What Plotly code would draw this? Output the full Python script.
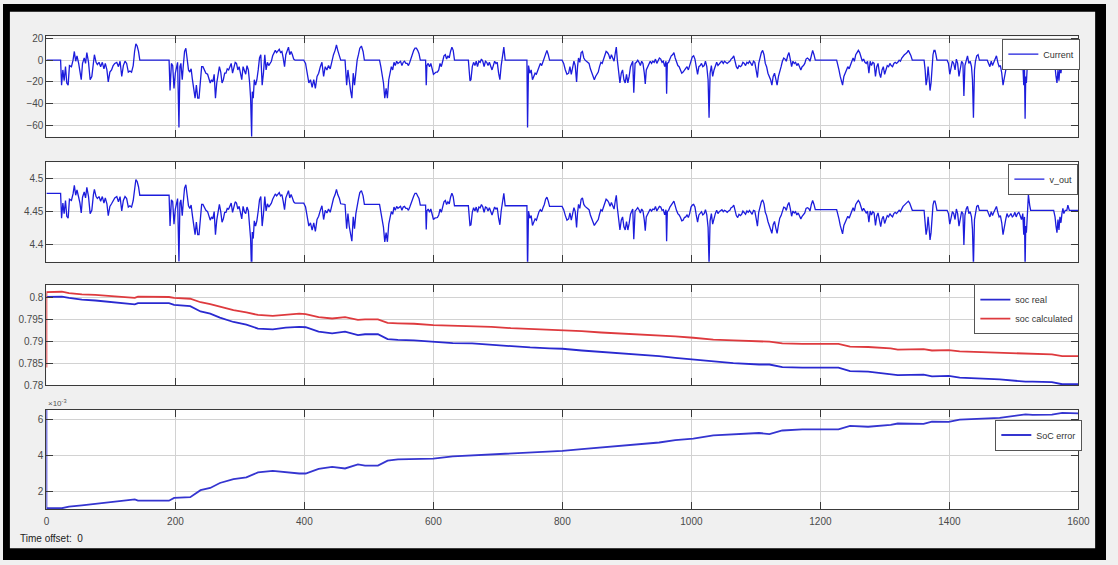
import plotly.graph_objects as go

# ---------------- data ----------------
# drive-cycle samples: time [s], pack current [A], terminal voltage [V]
time_s = [
    0, 22, 23.5, 25.5, 27.5, 29.6, 31.6, 33.7, 35.7, 38.8,
    41.3, 43.3, 45.4, 47.4, 50, 52, 54, 56, 58.6, 60.7,
    62.7, 65.3, 67.8, 70.4, 72.9, 74.4, 77, 79, 81.6, 84.1,
    86.7, 89.2, 91.3, 93.8, 95.9, 98.4, 101, 103.5, 106, 109.1,
    111.7, 114.2, 116.8, 119.3, 121.9, 124.4, 127, 129.5, 132, 134.6,
    136.7, 138.7, 140.7, 142.8, 144.8, 190.2, 191.7, 193.8, 195.8, 197.8,
    199.9, 202, 203.4, 205.5, 207, 208.5, 210.6, 212.1, 214.2, 216.2,
    218.2, 220.3, 222.3, 224.4, 226.4, 228.4, 230.5, 232.5, 234.6, 236.6,
    238.6, 240.7, 242.7, 244.7, 247.3, 249.9, 251.9, 254, 256, 258,
    260.1, 262.1, 264.1, 266.2, 268.2, 270.3, 272.3, 274.3, 276.4, 278.4,
    280.4, 282.5, 284.5, 286.5, 288.6, 290.6, 292.7, 294.7, 296.8, 298.8,
    300.8, 302.9, 304.9, 307, 309, 311, 313.1, 315.1, 316.6, 318.2,
    319.2, 320.7, 322.3, 324.3, 326.3, 328.4, 330.4, 332.4, 334.5, 336.5,
    338.6, 340.6, 342.7, 344.7, 346.7, 348.8, 350.8, 352.8, 354.9, 356.9,
    359, 361, 363, 365.1, 367.1, 369.2, 371.2, 373.2, 375.3, 377.3,
    379.4, 381.4, 383.4, 385.5, 399, 401.8, 404.3, 406.9, 409.4, 412,
    414.5, 417, 419.6, 422.1, 424.7, 427.2, 429.8, 432.3, 434.9, 437.4,
    440, 442.5, 445.1, 447.6, 449.7, 451.7, 454.3, 456.3, 463, 465.5,
    467.5, 469.6, 471.6, 473.6, 475.7, 477.7, 479.8, 481.8, 483.8, 485.9,
    488.4, 491, 493, 516.5, 518.5, 520.6, 522.6, 524.6, 526.7, 528.7,
    530.8, 532.8, 534.8, 536.9, 538.9, 540.9, 543, 545, 547.1, 549.1,
    551.2, 553.2, 555.2, 557.3, 559.3, 561.3, 563.4, 565.4, 567.5, 569.5,
    571.5, 573.6, 575.6, 577.7, 579.7, 587.9, 588.9, 589.9, 591.9, 594,
    596, 598.1, 600.1, 602.1, 604.2, 606.2, 608.3, 610.3, 612.3, 614.4,
    616.4, 618.5, 620.5, 622.5, 624.6, 626.6, 628.7, 630.7, 632.7, 654.2,
    655.2, 656.7, 658.2, 660.3, 662.3, 664.4, 666.4, 668.4, 670.5, 672.5,
    674.5, 676.6, 678.6, 680.7, 682.7, 684.7, 686.8, 688.8, 690.9, 692.9,
    694.9, 697, 699, 701.1, 703.1, 705.1, 707.2, 709.2, 711.3, 745,
    746, 747.5, 749.5, 751.6, 753.6, 755.6, 757.7, 759.7, 761.8, 763.8,
    765.8, 767.9, 769.9, 772, 774, 776, 778.1, 780.1, 799.5, 802,
    804.6, 807.1, 809.7, 811.7, 813.8, 815.8, 817.9, 819.9, 822, 823.5,
    825, 827, 829.1, 831.1, 833.2, 835.2, 837.2, 839.3, 841.3, 843.4,
    845.4, 847.4, 849.5, 851.5, 853.6, 855.6, 857.6, 859.7, 861.7, 863.8,
    865.8, 867.8, 869.9, 871.9, 873.9, 876, 878, 880.1, 882.1, 883.6,
    885.2, 887.2, 889.2, 891.3, 893.3, 895.4, 897.4, 899.4, 901.5, 903.5,
    905.6, 907.6, 909.1, 910.7, 912.7, 914.7, 916.8, 918.8, 920.9, 922.9,
    924.9, 927, 928.5, 930.1, 932.1, 934.1, 936.2, 938.2, 940.2, 942.3,
    944.3, 946.4, 948.4, 950.4, 952.5, 954.5, 956.5, 958.6, 960.6, 961.6,
    962.7, 964.7, 966.7, 968.8, 970.8, 972.9, 974.9, 976.9, 979, 981,
    983.1, 985.1, 987.1, 989.2, 991.2, 993.2, 995.3, 997.3, 999.4, 1001.4,
    1003.5, 1005.5, 1007.5, 1009.6, 1011.6, 1013.7, 1015.7, 1017.7, 1019.8, 1021.8,
    1023.9, 1025.9, 1027.4, 1029, 1031, 1033, 1035.1, 1037.1, 1039.2, 1041.2,
    1043.2, 1045.3, 1047.3, 1049.4, 1051.4, 1053.4, 1055.5, 1057.5, 1059.6, 1061.6,
    1063.6, 1065.7, 1067.7, 1069.7, 1071.8, 1073.8, 1075.9, 1077.9, 1079.9, 1082,
    1084, 1086.1, 1088.1, 1090.1, 1092.2, 1094.2, 1096.3, 1098.3, 1100.3, 1102.4,
    1104.4, 1106.4, 1108.5, 1110.5, 1112.6, 1114.6, 1116.6, 1118.7, 1120.7, 1122.8,
    1124.8, 1126.8, 1128.9, 1130.9, 1132.9, 1135, 1137, 1139.1, 1141.1, 1143.2,
    1145.2, 1147.2, 1149.3, 1151.3, 1153.3, 1155.4, 1157.4, 1159.5, 1161.5, 1163.5,
    1165.6, 1167.6, 1169.7, 1171.7, 1173.8, 1175.8, 1177.8, 1179.9, 1181.9, 1183.9,
    1186, 1188, 1190.1, 1192.1, 1225.2, 1226.7, 1228.8, 1230.8, 1232.8, 1234.4,
    1236.4, 1238.5, 1240.5, 1242.5, 1244.6, 1246.6, 1248.7, 1250.7, 1252.7, 1254.8,
    1256.8, 1258.9, 1260.9, 1262.9, 1265, 1267, 1269.1, 1271.1, 1273.1, 1275.2,
    1277.2, 1279.2, 1281.3, 1283.3, 1285.4, 1287.4, 1289.4, 1291.5, 1293.5, 1295.6,
    1297.6, 1299.6, 1301.7, 1303.7, 1305.8, 1307.8, 1309.8, 1311.9, 1313.9, 1316,
    1318, 1320, 1322.1, 1324.1, 1326.2, 1328.2, 1330.2, 1332.3, 1334.3, 1336.4,
    1338.4, 1340.4, 1342.5, 1360.8, 1362.4, 1363.9, 1365.4, 1367, 1368.5, 1370,
    1371.6, 1373.1, 1374.6, 1376.1, 1377.7, 1379.2, 1380.7, 1396.5, 1398.6, 1400.6,
    1402.6, 1404.7, 1406.7, 1408.8, 1410.8, 1412.8, 1414.9, 1416.9, 1419, 1421,
    1422.5, 1424.1, 1426.1, 1428.1, 1430.2, 1432.2, 1434.3, 1435.8, 1437.3, 1438.9,
    1440.4, 1442.4, 1444.5, 1446.5, 1458.7, 1460.8, 1462.8, 1464.9, 1466.9, 1468.9,
    1471, 1473, 1475.1, 1477.1, 1479.1, 1481.2, 1483.2, 1485.2, 1487.3, 1489.3,
    1491.4, 1493.4, 1495.4, 1497.5, 1499.5, 1501.6, 1503.6, 1505.6, 1507.7, 1509.7,
    1511.8, 1513.8, 1515.3, 1516.4, 1517.4, 1518.4, 1519.4, 1521, 1522.5, 1524.5,
    1526, 1561.7, 1563.8, 1565.3, 1566.8, 1568.4, 1569.9, 1571.4, 1573, 1574.5,
    1576, 1577.5, 1579.6, 1582.1, 1583.7, 1586, 1600,
]

current_a = [
    0, 0, -23, -9, -19, -6, -21, -23, -5, -6,
    0, 8, -1, 4, -3, -9, -18, -3, 2, -3,
    7, -2, -18, -15, 0, 5, -2, -4, -2, -6,
    -2, -8, -3, -9, -20, -11, -9, -5, -3, -2,
    -6, -1, -15, -5, -1, -3, -11, -10, -11, -5,
    8, 15, 13, 8, 0, 0, -28, -3, -5, -26,
    -12, -3, -2, -62, -6, -3, -18, -6, 8, 11,
    2, -9, -11, -8, -18, -26, -35, -23, -35, -35,
    -18, -6, -6, -9, -12, -13, -18, -21, -18, -20,
    -13, -35, -21, -12, -6, -11, -21, -18, -12, -12,
    -8, -9, -6, -3, -12, -6, -2, -3, -9, -6,
    -12, -18, -6, -11, -13, -5, -9, -21, -35, -70.5,
    -29, -35, -18, -23, -18, -9, 2, 5, -23, -12,
    5, -9, -2, -5, -3, -1, 4, 7, 9, 7,
    9, 10, 7, 8, 2, -6, 5, 9, 12, 5,
    8, 5, 1, 0, 0, -3, -12, -21, -18, -25,
    -18, -26, -15, -12, -6, -2, -15, -6, -9, -5,
    -8, -1, 5, 9, 14, 9, 5, 0, 0, -23,
    -9, -21, -28, -35, -12, -23, -9, 0, 5, 11,
    13, 8, 0, 0, -6, -15, -21, -35, -26, -35,
    -18, -12, -6, -9, -2, -5, -1, -3, -2, -1,
    -5, -2, -1, -3, -3, -5, -2, 2, 7, 9,
    11, 11, 9, 6, 0, 0, -23, -5, -3, -6,
    -3, -9, -13, -12, -11, -11, -9, -3, -6, -1,
    4, 5, 1, 4, 2, 8, 12, 9, 0, 0,
    -12, -19, -18, -6, -2, -5, -1, -6, -1, -2,
    1, -1, -6, -1, -2, -5, -2, -6, -9, -5,
    -1, -3, -2, -12, -18, -5, 5, 12, 0, 0,
    -62, -5, -12, -9, -18, -15, -12, -13, -9, -5,
    -3, -5, -1, 2, 7, 9, 5, 0, 0, -3,
    -9, -13, -12, -6, -13, -6, -1, -5, -20, -6,
    2, -2, 7, 8, 2, 0, -1, -2, -3, -8,
    -12, -15, -18, -15, -13, -11, -6, -2, -3, 1,
    5, 8, 7, 5, 1, 5, 2, -1, 7, 12,
    0, -9, -21, -12, -9, -18, -21, -13, -21, -15,
    -6, -3, -1, -30, -3, -2, 0, -2, -5, -1,
    -3, -12, -22, -9, -6, -3, -1, -3, -1, -2,
    1, -3, -1, 2, 1, -2, -1, -6, -1, -31,
    -3, -2, 1, 4, 5, 7, 2, -2, -5, -6,
    -9, -12, -11, -9, -8, -6, -9, -5, 1, 3,
    4, 1, -6, -13, -6, -5, -3, -6, -5, -1,
    -6, -18, -53, -12, -5, -15, -9, -5, -2, -5,
    -3, -2, -1, -3, -1, -2, -3, -2, -1, 1,
    2, 4, -2, -6, -8, -5, -6, -5, -2, -3,
    -5, -2, -3, -1, -3, -5, -1, -2, -9, -16,
    -3, 2, 7, 9, 5, -3, -6, -12, -15, -18,
    -23, -15, -12, -18, -23, -15, -9, -6, -1, 2,
    1, -1, 4, 7, 1, -6, -1, -3, -2, -5,
    -3, -6, -9, -6, -5, -3, 1, 2, 1, -1,
    5, 9, 5, 0, 0, -3, -9, -15, -21, -23,
    -15, -12, -9, -6, -8, -5, -2, 2, -1, 5,
    7, 9, 7, 2, -1, 1, -2, -3, -1, -12,
    -1, -5, -2, -3, -15, -6, -3, -12, -16, -9,
    -6, -13, -8, -5, -6, -3, -5, -6, -3, -2,
    -3, -2, 0, -1, 2, 4, 5, 6, 7, 9,
    7, 4, 0, 0, -9, -23, -18, -6, -16, -28,
    -21, -3, 5, 9, 9, 5, 0, 0, -3, -13,
    -6, -1, -3, -9, 1, -3, -15, -6, -1, -3,
    -33, -5, 1, 4, -3, -1, -6, -18, -53, -9,
    -1, 4, 5, 0, 0, -3, -6, -1, -5, -2,
    1, 4, -2, -6, -5, -12, -23, -15, -9, -3,
    -6, -5, -3, -6, -5, -2, -6, -3, -2, -5,
    -9, -3, -23, -6, -54, -15, -21, -3, 15, 5,
    0, 0, -6, -15, -21, -9, -19, -6, -12, -3,
    2, -3, 0, 0, 5, 0, 0,
]

v_out = [
    4.478, 4.478, 4.440, 4.463, 4.447, 4.467, 4.443, 4.440, 4.469, 4.467,
    4.477, 4.490, 4.475, 4.483, 4.472, 4.463, 4.448, 4.472, 4.480, 4.471,
    4.487, 4.473, 4.447, 4.452, 4.476, 4.484, 4.473, 4.470, 4.473, 4.466,
    4.473, 4.463, 4.471, 4.462, 4.444, 4.458, 4.462, 4.468, 4.471, 4.473,
    4.465, 4.473, 4.451, 4.467, 4.473, 4.470, 4.457, 4.459, 4.457, 4.467,
    4.488, 4.499, 4.496, 4.488, 4.475, 4.475, 4.428, 4.468, 4.465, 4.431,
    4.454, 4.468, 4.470, 4.374, 4.463, 4.468, 4.444, 4.463, 4.486, 4.491,
    4.476, 4.459, 4.455, 4.460, 4.444, 4.431, 4.415, 4.434, 4.415, 4.415,
    4.442, 4.461, 4.461, 4.457, 4.452, 4.450, 4.442, 4.437, 4.442, 4.439,
    4.450, 4.415, 4.437, 4.452, 4.461, 4.450, 4.434, 4.439, 4.449, 4.449,
    4.455, 4.454, 4.458, 4.463, 4.449, 4.458, 4.465, 4.463, 4.454, 4.458,
    4.449, 4.439, 4.458, 4.450, 4.447, 4.457, 4.451, 4.431, 4.409, 4.352,
    4.419, 4.409, 4.436, 4.428, 4.436, 4.451, 4.468, 4.473, 4.428, 4.446,
    4.473, 4.451, 4.462, 4.457, 4.460, 4.463, 4.469, 4.474, 4.477, 4.474,
    4.477, 4.479, 4.474, 4.476, 4.466, 4.453, 4.471, 4.477, 4.482, 4.471,
    4.476, 4.471, 4.465, 4.463, 4.463, 4.457, 4.443, 4.428, 4.433, 4.422,
    4.433, 4.420, 4.438, 4.443, 4.452, 4.459, 4.438, 4.452, 4.448, 4.454,
    4.449, 4.460, 4.470, 4.476, 4.484, 4.476, 4.470, 4.462, 4.461, 4.424,
    4.447, 4.427, 4.416, 4.405, 4.442, 4.424, 4.447, 4.461, 4.469, 4.479,
    4.482, 4.474, 4.461, 4.461, 4.451, 4.436, 4.426, 4.404, 4.418, 4.404,
    4.431, 4.441, 4.450, 4.446, 4.457, 4.452, 4.458, 4.455, 4.457, 4.458,
    4.452, 4.457, 4.458, 4.455, 4.455, 4.452, 4.457, 4.463, 4.471, 4.474,
    4.478, 4.478, 4.474, 4.470, 4.460, 4.460, 4.423, 4.451, 4.454, 4.449,
    4.454, 4.445, 4.438, 4.440, 4.441, 4.441, 4.445, 4.454, 4.449, 4.457,
    4.465, 4.467, 4.461, 4.465, 4.462, 4.472, 4.478, 4.473, 4.459, 4.459,
    4.440, 4.429, 4.430, 4.449, 4.456, 4.451, 4.457, 4.449, 4.457, 4.456,
    4.461, 4.457, 4.449, 4.457, 4.456, 4.451, 4.456, 4.449, 4.445, 4.451,
    4.457, 4.454, 4.456, 4.440, 4.430, 4.451, 4.467, 4.478, 4.459, 4.459,
    4.360, 4.451, 4.440, 4.444, 4.429, 4.434, 4.439, 4.437, 4.444, 4.450,
    4.453, 4.450, 4.456, 4.461, 4.469, 4.472, 4.466, 4.458, 4.458, 4.453,
    4.444, 4.437, 4.439, 4.448, 4.437, 4.448, 4.456, 4.450, 4.426, 4.448,
    4.461, 4.455, 4.469, 4.471, 4.461, 4.458, 4.456, 4.455, 4.453, 4.445,
    4.439, 4.434, 4.429, 4.432, 4.435, 4.438, 4.446, 4.453, 4.451, 4.458,
    4.464, 4.469, 4.467, 4.464, 4.458, 4.464, 4.459, 4.454, 4.467, 4.475,
    4.456, 4.442, 4.422, 4.437, 4.442, 4.427, 4.422, 4.435, 4.422, 4.432,
    4.446, 4.451, 4.454, 4.408, 4.451, 4.453, 4.456, 4.453, 4.448, 4.454,
    4.451, 4.437, 4.421, 4.442, 4.446, 4.451, 4.454, 4.451, 4.454, 4.453,
    4.458, 4.451, 4.454, 4.458, 4.457, 4.452, 4.453, 4.445, 4.453, 4.405,
    4.450, 4.452, 4.457, 4.461, 4.463, 4.466, 4.458, 4.452, 4.447, 4.445,
    4.441, 4.436, 4.437, 4.441, 4.442, 4.445, 4.441, 4.447, 4.457, 4.460,
    4.461, 4.457, 4.445, 4.434, 4.445, 4.447, 4.450, 4.445, 4.447, 4.453,
    4.445, 4.426, 4.370, 4.436, 4.447, 4.431, 4.441, 4.447, 4.452, 4.447,
    4.450, 4.452, 4.453, 4.450, 4.452, 4.451, 4.449, 4.451, 4.452, 4.456,
    4.457, 4.460, 4.451, 4.444, 4.441, 4.446, 4.444, 4.446, 4.451, 4.449,
    4.446, 4.451, 4.449, 4.452, 4.449, 4.446, 4.452, 4.451, 4.440, 4.428,
    4.449, 4.457, 4.465, 4.468, 4.462, 4.449, 4.444, 4.435, 4.430, 4.425,
    4.417, 4.430, 4.435, 4.425, 4.417, 4.430, 4.440, 4.444, 4.452, 4.457,
    4.456, 4.452, 4.460, 4.464, 4.455, 4.443, 4.451, 4.448, 4.450, 4.445,
    4.448, 4.443, 4.439, 4.443, 4.445, 4.448, 4.455, 4.456, 4.455, 4.451,
    4.461, 4.467, 4.461, 4.453, 4.453, 4.448, 4.439, 4.429, 4.419, 4.416,
    4.429, 4.434, 4.439, 4.443, 4.440, 4.445, 4.450, 4.456, 4.451, 4.461,
    4.464, 4.467, 4.464, 4.456, 4.451, 4.455, 4.450, 4.448, 4.451, 4.434,
    4.451, 4.445, 4.450, 4.448, 4.429, 4.443, 4.448, 4.434, 4.427, 4.439,
    4.443, 4.432, 4.439, 4.444, 4.442, 4.447, 4.444, 4.442, 4.447, 4.449,
    4.447, 4.449, 4.452, 4.450, 4.455, 4.458, 4.460, 4.462, 4.463, 4.466,
    4.463, 4.458, 4.452, 4.452, 4.438, 4.415, 4.423, 4.442, 4.426, 4.407,
    4.418, 4.447, 4.460, 4.466, 4.466, 4.460, 4.452, 4.452, 4.447, 4.431,
    4.442, 4.450, 4.447, 4.438, 4.454, 4.447, 4.428, 4.442, 4.450, 4.447,
    4.399, 4.444, 4.454, 4.458, 4.447, 4.450, 4.442, 4.423, 4.367, 4.438,
    4.450, 4.458, 4.460, 4.452, 4.452, 4.447, 4.442, 4.450, 4.444, 4.449,
    4.454, 4.458, 4.449, 4.442, 4.444, 4.433, 4.415, 4.428, 4.438, 4.447,
    4.442, 4.444, 4.447, 4.442, 4.444, 4.449, 4.442, 4.447, 4.449, 4.444,
    4.438, 4.447, 4.415, 4.442, 4.366, 4.428, 4.418, 4.447, 4.476, 4.460,
    4.452, 4.452, 4.442, 4.428, 4.418, 4.438, 4.422, 4.442, 4.433, 4.447,
    4.455, 4.447, 4.452, 4.452, 4.460, 4.452, 4.452,
]

# state of charge: measured vs. estimated, and the estimation error (x1e-3)
soc_time_s = [
    0, 0, 24, 35, 55, 76, 101, 121, 137, 142,
    190, 198, 223, 239, 254, 269, 290, 310, 328, 351,
    371, 392, 402, 422, 443, 463, 483, 494, 514, 529,
    545, 570, 600, 630, 660, 690, 720, 750, 780, 800,
    830, 860, 890, 920, 950, 975, 1003, 1034, 1065, 1105,
    1121, 1141, 1172, 1228, 1246, 1274, 1309, 1320, 1360, 1373,
    1399, 1416, 1478, 1493, 1518, 1529, 1559, 1575, 1600,
]

soc_real = [
    0.8001, 0.8001, 0.8002, 0.7999, 0.7995, 0.7993, 0.7989, 0.7986, 0.7984, 0.7987,
    0.7987, 0.7983, 0.7980, 0.7968, 0.7963, 0.7954, 0.7944, 0.7938, 0.7929, 0.7927,
    0.7931, 0.7933, 0.7932, 0.7922, 0.7918, 0.7922, 0.7914, 0.7916, 0.7916, 0.7905,
    0.7903, 0.7902, 0.7899, 0.7896, 0.7895, 0.7892, 0.7888, 0.7886, 0.7884, 0.7883,
    0.7879, 0.7876, 0.7873, 0.7870, 0.7866, 0.7862, 0.7858, 0.7853, 0.7850, 0.7847,
    0.7847, 0.7841, 0.7840, 0.7840, 0.7832, 0.7831, 0.7826, 0.7823, 0.7824, 0.7820,
    0.7821, 0.7817, 0.7813, 0.7811, 0.7808, 0.7808, 0.7807, 0.7802, 0.7802,
]

soc_calculated = [
    0.7840, 0.8012, 0.8013, 0.8010, 0.8007, 0.8006, 0.8003, 0.8001, 0.7999, 0.8002,
    0.8001, 0.7999, 0.7997, 0.7989, 0.7985, 0.7979, 0.7971, 0.7966, 0.7960, 0.7958,
    0.7961, 0.7963, 0.7962, 0.7955, 0.7952, 0.7955, 0.7949, 0.7950, 0.7950, 0.7942,
    0.7941, 0.7940, 0.7937, 0.7936, 0.7935, 0.7933, 0.7930, 0.7928, 0.7927, 0.7926,
    0.7923, 0.7920, 0.7918, 0.7916, 0.7913, 0.7911, 0.7908, 0.7904, 0.7902, 0.7899,
    0.7899, 0.7895, 0.7894, 0.7894, 0.7888, 0.7887, 0.7884, 0.7881, 0.7882, 0.7879,
    0.7880, 0.7877, 0.7874, 0.7873, 0.7871, 0.7870, 0.7870, 0.7866, 0.7866,
]

soc_error_e3 = [
    16.1, 1.05, 1.05, 1.14, 1.21, 1.30, 1.39, 1.49, 1.54, 1.47,
    1.47, 1.63, 1.67, 2.06, 2.18, 2.46, 2.68, 2.77, 3.05, 3.14,
    3.05, 2.99, 2.99, 3.25, 3.36, 3.27, 3.50, 3.43, 3.43, 3.71,
    3.78, 3.80, 3.82, 3.95, 4.00, 4.05, 4.10, 4.15, 4.22, 4.25,
    4.35, 4.45, 4.55, 4.62, 4.72, 4.85, 4.94, 5.12, 5.17, 5.25,
    5.19, 5.39, 5.45, 5.45, 5.65, 5.60, 5.70, 5.78, 5.76, 5.89,
    5.87, 6.00, 6.09, 6.17, 6.29, 6.26, 6.28, 6.37, 6.35,
]

x_ticks = [0, 200, 400, 600, 800, 1000, 1200, 1400, 1600]
current_ticks = [-60, -40, -20, 0, 20]
voltage_ticks = [4.4, 4.45, 4.5]
soc_ticks = [0.78, 0.785, 0.79, 0.795, 0.8]
soc_tick_text = ["0.78", "0.785", "0.79", "0.795", "0.8"]
error_ticks = [2, 4, 6]

assert len(time_s) == len(current_a) == len(v_out)
assert len(soc_time_s) == len(soc_real) == len(soc_calculated) == len(soc_error_e3)

# ---------------- figure ----------------
W, H = 1118, 565
BLUE = "#1c1cdc"
RED = "#de3a3e"
FONT = "Liberation Sans, Arial, sans-serif"

fig = go.Figure()

fig.add_trace(go.Scatter(x=time_s, y=current_a, mode="lines", name="Current",
                         line=dict(color=BLUE, width=1.3), xaxis="x", yaxis="y",
                         legend="legend"))
fig.add_trace(go.Scatter(x=time_s, y=v_out, mode="lines", name="v_out",
                         line=dict(color=BLUE, width=1.3), xaxis="x2", yaxis="y2",
                         legend="legend2"))
fig.add_trace(go.Scatter(x=soc_time_s, y=soc_real, mode="lines", name="soc real",
                         line=dict(color="#2a2ad0", width=1.8), xaxis="x3", yaxis="y3",
                         legend="legend3"))
fig.add_trace(go.Scatter(x=soc_time_s, y=soc_calculated, mode="lines", name="soc calculated",
                         line=dict(color=RED, width=1.8), xaxis="x3", yaxis="y3",
                         legend="legend3"))
fig.add_trace(go.Scatter(x=soc_time_s, y=soc_error_e3, mode="lines", name="SoC error",
                         line=dict(color="#3535d0", width=1.8), xaxis="x4", yaxis="y4",
                         legend="legend4"))

x_dom = [44 / W, 1090 / W]


def ydom(top_px, bottom_px):
    return [1 - bottom_px / H, 1 - top_px / H]


axis_common = dict(
    showline=True, linecolor="#3a3a3a", linewidth=1, mirror="ticks",
    ticks="inside", ticklen=7, tickcolor="#3a3a3a", tickwidth=1,
    showgrid=True, gridcolor="#d2d2d2", gridwidth=1, zeroline=False,
    tickfont=dict(family=FONT, size=10, color="#4a4a4a"),
)

x_common = dict(axis_common, range=[0, 1600], tickvals=x_ticks, domain=x_dom)

layout = dict(
    width=W, height=H,
    margin=dict(l=0, r=0, t=0, b=0),
    paper_bgcolor="#f0f0f0", plot_bgcolor="#ffffff",
    font=dict(family=FONT, size=10, color="#333333"),
    xaxis=dict(x_common, anchor="y", showticklabels=False),
    xaxis2=dict(x_common, anchor="y2", showticklabels=False, matches="x"),
    xaxis3=dict(x_common, anchor="y3", showticklabels=False, matches="x"),
    xaxis4=dict(x_common, anchor="y4", showticklabels=True, matches="x",
                ticklabelstandoff=3),
    yaxis=dict(axis_common, anchor="x", domain=ydom(33, 135),
               range=[-70.6, 21.8], tickvals=current_ticks),
    yaxis2=dict(axis_common, anchor="x2", domain=ydom(160.7, 262),
                range=[4.3735, 4.5255], tickvals=voltage_ticks),
    yaxis3=dict(axis_common, anchor="x3", domain=ydom(285.7, 387.3),
                range=[0.78, 0.8028], tickvals=soc_ticks, ticktext=soc_tick_text),
    yaxis4=dict(axis_common, anchor="x4", domain=ydom(412.3, 513.3),
                range=[1.0, 6.55], tickvals=error_ticks),
    showlegend=True,
)

legend_common = dict(
    xanchor="right", yanchor="middle", bgcolor="#ffffff",
    bordercolor="#555555", borderwidth=1,
    font=dict(family=FONT, size=9, color="#333333"),
    itemwidth=30, tracegroupgap=0,
)
# legend boxes: right edge and vertical centre in pixels
layout["legend"] = dict(legend_common, x=1092 / W, y=1 - 51 / H)
layout["legend2"] = dict(legend_common, x=1090 / W, y=1 - 178 / H)
layout["legend3"] = dict(legend_common, x=1091 / W, y=1 - 310 / H)
layout["legend4"] = dict(legend_common, x=1094 / W, y=1 - 438 / H)

fig.update_layout(**layout)

# exponent marker above the error axis and the scope's time-offset readout
fig.add_annotation(text="\u00d710<sup>-3</sup>", xref="paper", yref="paper",
                   x=44 / W, y=1 - 405 / H, xanchor="left", yanchor="middle",
                   showarrow=False, font=dict(family=FONT, size=8, color="#555555"))
fig.add_annotation(text="Time offset:  0", xref="paper", yref="paper",
                   x=15 / W, y=1 - 543 / H, xanchor="left", yanchor="middle",
                   showarrow=False, font=dict(family=FONT, size=10, color="#222222"))

# black window frame around the scope panel
frame = [
    (0, 0, 7, H),
    (1107, 0, W, H),
    (0, 0, W, 8),
    (0, 553, W, H),
]
for x0, y0, x1, y1 in frame:
    fig.add_shape(type="rect", xref="paper", yref="paper", layer="above",
                  x0=x0 / W, x1=x1 / W, y0=1 - y1 / H, y1=1 - y0 / H,
                  fillcolor="#000000", line=dict(width=0))

fig.write_html("out.html")
